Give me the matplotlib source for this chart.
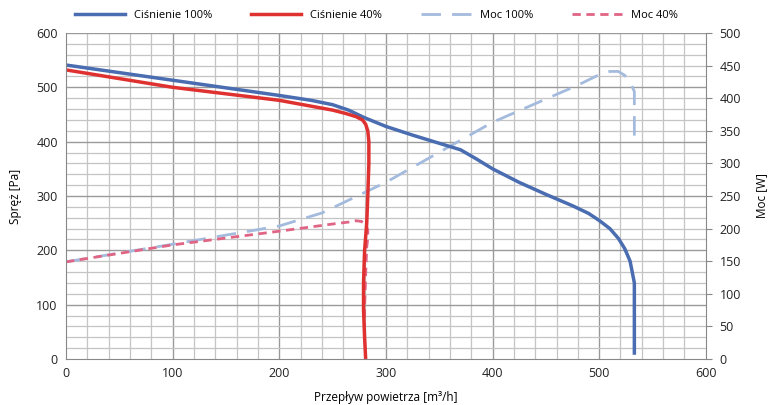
import matplotlib.pyplot as plt
import numpy as np

# Ciśnienie 100% (Pa)
x_p100 = [0, 50, 100, 150, 200, 230, 250, 265, 280, 300, 325, 350, 370, 385, 400, 425, 450,
          475, 490, 500, 510, 518, 524, 529, 531, 533, 533, 533]
p100 = [541, 527, 513, 499, 485, 476, 468, 458, 444, 428, 412, 397, 385, 368, 350, 325, 303,
        282, 268, 255, 240, 222, 203, 180, 160, 140, 80, 11]

# Ciśnienie 40% (Pa)
x_p40 = [0, 50, 100, 150, 200, 250, 262, 272, 278, 281, 283, 284, 284, 283, 282, 280, 279, 279, 280, 281]
p40 = [532, 516, 500, 488, 476, 458, 452, 446, 440, 432, 420, 400, 360, 300, 250, 200, 140, 90, 40, 0]

# Moc 100% (W)
x_m100 = [0, 100, 200, 240, 300, 400, 480, 490, 500, 510, 518, 524, 530, 533, 533]
m100 = [149, 176, 204, 224, 271, 363, 420, 428, 436, 441, 441, 435, 422, 410, 332]

# Moc 40% (W)
x_m40 = [0, 100, 200, 250, 265, 272, 277, 281, 283, 283, 282, 281, 280, 280]
m40 = [149, 175, 196, 207, 210, 212, 211, 206, 198, 185, 172, 130, 80, 50]

plt.rcParams['font.family'] = ['Open Sans', 'DejaVu Sans']

fig = plt.figure(figsize=(7.68, 4.05), dpi=100)
ax = fig.add_axes([0.086, 0.1136, 0.833, 0.805])
ax2 = ax.twinx()

ax.set_xlim(0, 600)
ax.set_ylim(0, 600)
ax2.set_ylim(0, 500)

ax.set_xticks(np.arange(0, 601, 100))
ax.set_yticks(np.arange(0, 601, 100))
ax2.set_yticks(np.arange(0, 501, 50))

ax.tick_params(which='both', length=0, labelsize=9, colors='#222222', pad=6)
ax2.tick_params(axis='y', length=4, width=0.8, color='#888888', labelsize=9, labelcolor='#222222', pad=6)

for s in list(ax.spines.values()) + list(ax2.spines.values()):
    s.set_visible(False)
ax2.spines['right'].set_visible(True)
ax2.spines['right'].set_color('#888888')
ax.spines['left'].set_visible(True)
ax.spines['left'].set_color('#888888')
ax.spines['bottom'].set_visible(True)
ax.spines['bottom'].set_color('#888888')

# grid drawn on the back axes so every line sits on top of it
ax2.set_zorder(ax.get_zorder() - 1)
ax.patch.set_visible(False)
ax2.patch.set_facecolor('white')
for xv in np.arange(20, 600, 20):
    major = xv % 100 == 0
    ax2.axvline(xv, color='#9a9a9a' if major else '#c4c4c4', linewidth=1.0 if major else 0.9, zorder=0)
for pv in np.arange(20, 601, 20):
    major = pv % 100 == 0
    ax2.axhline(pv * 500 / 600, color='#9a9a9a' if major else '#c4c4c4', linewidth=1.0 if major else 0.9, zorder=0)

l1, = ax.plot(x_p100, p100, color='#4a6cb0', linewidth=2.5, label='Ciśnienie 100%')
l2, = ax.plot(x_p40, p40, color='#e03131', linewidth=2.5, label='Ciśnienie 40%')
l3, = ax2.plot(x_m100, m100, color='#a4bbde', linewidth=2, dashes=(7, 4), label='Moc 100%')
l4, = ax2.plot(x_m40, m40, color='#e06585', linewidth=2, dashes=(3, 2), label='Moc 40%')

ax.set_xlabel('Przepływ powietrza [m³/h]', fontsize=8.5, labelpad=8)
ax.set_ylabel('Spręż [Pa]', fontsize=8.5, labelpad=10)
ax2.set_ylabel('Moc [W]', fontsize=8.5, labelpad=10)

fig.legend(handles=[l1, l2, l3, l4], loc='upper center', bbox_to_anchor=(0.49, 1.0),
           ncol=4, frameon=False, fontsize=8, handlelength=4.5, columnspacing=3.5)

fig.savefig('out.png', dpi=100)
